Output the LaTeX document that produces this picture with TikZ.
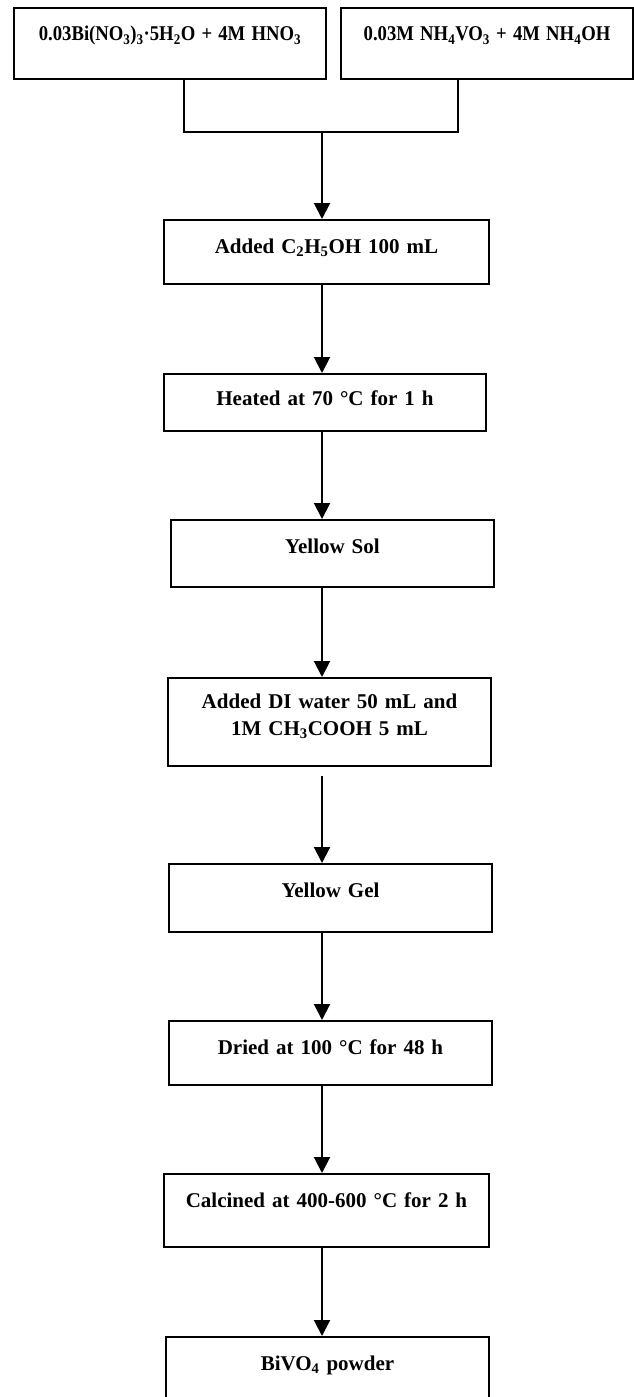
\documentclass[tikz,border=0pt]{standalone}
\usepackage{fontspec}
\setmainfont{Liberation Serif}
\usetikzlibrary{arrows.meta,calc}

\tikzset{
  stepbox/.style={draw, line width=2pt, anchor=north west, inner sep=0pt,
    align=center, text height=33pt,
    font=\fontsize{21}{27}\selectfont\bfseries},
  flow/.style={-{Triangle[length=16pt,width=16pt]}, line width=2pt},
  link/.style={line width=2pt}
}

\begin{document}
\begin{tikzpicture}[x=1pt,y=-1pt]
\useasboundingbox (0,0) rectangle (633,1397);
% starting solutions
\node[stepbox, text width=312pt, text depth=38pt] (bi) at (13,7)
  {\scalebox{0.89}[1]{0.03Bi(NO\textsubscript{3})\textsubscript{3}·5H\textsubscript{2}O + 4M HNO\textsubscript{3}}};
\node[stepbox, text width=292pt, text depth=38pt] (nh) at (340,7)
  {\scalebox{0.89}[1]{0.03M NH\textsubscript{4}VO\textsubscript{3} + 4M NH\textsubscript{4}OH}};
% process steps
\node[stepbox, text width=325pt, text depth=31pt] (add) at (163,219)
  {Added C\textsubscript{2}H\textsubscript{5}OH 100 mL};
\node[stepbox, text width=322pt, text height=31pt, text depth=26pt] (heat) at (163,373)
  {Heated at 70 °C for 1 h};
\node[stepbox, text width=323pt, text depth=34pt] (sol) at (170,519) {Yellow Sol};
\node[stepbox, text width=323pt, text height=30pt, text depth=58pt] (di) at (167,677)
  {Added DI water 50 mL and\\ 1M CH\textsubscript{3}COOH 5 mL};
\node[stepbox, text width=323pt, text depth=35pt] (gel) at (168,863) {Yellow Gel};
\node[stepbox, text width=323pt, text depth=31pt] (dry) at (168,1020)
  {Dried at 100 °C for 48 h};
\node[stepbox, text width=325pt, text depth=40pt] (calc) at (163,1173)
  {Calcined at 400-600 °C for 2 h};
\node[stepbox, text width=323pt, text depth=40pt] (bivo) at (165,1336)
  {BiVO\textsubscript{4} powder};
% joining lines
\coordinate (axis) at (322,0);
\coordinate (jl) at (184,132);
\coordinate (jr) at (458,132);
\draw[link] (bi.south -| jl) -- (jl) -- (jr) -- (nh.south -| jr);
\draw[flow] (jl -| axis) -- (add.north -| axis);
\draw[flow] (add.south -| axis) -- (heat.north -| axis);
\draw[flow] (heat.south -| axis) -- (sol.north -| axis);
\draw[flow] (sol.south -| axis) -- (di.north -| axis);
\draw[flow] ($(di.south -| axis)+(0,9)$) -- (gel.north -| axis);
\draw[flow] (gel.south -| axis) -- (dry.north -| axis);
\draw[flow] (dry.south -| axis) -- (calc.north -| axis);
\draw[flow] (calc.south -| axis) -- (bivo.north -| axis);
\end{tikzpicture}
\end{document}
